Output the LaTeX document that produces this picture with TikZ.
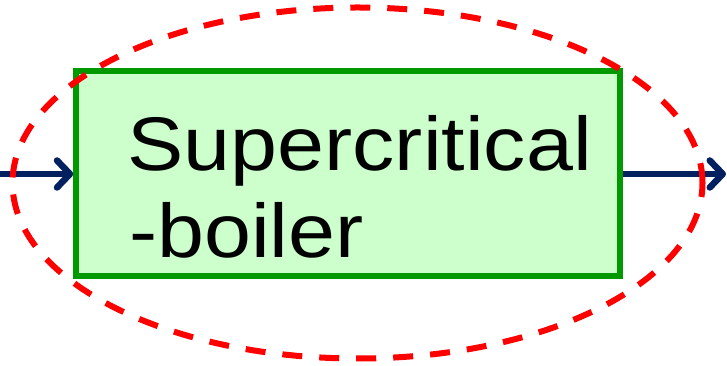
\documentclass[tikz,border=0pt]{standalone}
\usepackage{fontspec}
\setmainfont{Liberation Sans}
\definecolor{boxgreen}{RGB}{0,153,0}
\definecolor{boxfill}{RGB}{204,255,204}
\definecolor{arrowblue}{RGB}{0,32,96}
\definecolor{ellred}{RGB}{255,0,0}
\usetikzlibrary{arrows.meta}
\begin{document}
\begin{tikzpicture}[x=1pt,y=1pt,
  boilerbox/.style={draw=boxgreen,fill=boxfill,line width=5.5pt},
  flowarrow/.style={draw=arrowblue,line width=6.5pt,-{Straight Barb[length=13pt,width=27pt,round]}},
  bigtext/.style={anchor=base west,inner sep=0pt,font=\fontsize{76}{90}\selectfont,xscale=1.11},
  envelope/.style={draw=ellred,line width=6pt,dash pattern=on 20pt off 17pt}]
\useasboundingbox (0,0) rectangle (727,366);
\node[boilerbox,minimum width=544pt,minimum height=205pt,inner sep=0pt] (box) at (348,192.5) {};
\node[bigtext] (t1) at (127.5,195) {Supercritical};
\node[bigtext] (t2) at (129,108) {-boiler};
\coordinate (inL) at (0,192);
\coordinate (outR) at (726,192);
\draw[flowarrow] (inL) -- (inL -| box.west);
\draw[flowarrow] (outR -| box.east) -- (outR);
\draw[envelope] (357.5,183) ellipse [x radius=345, y radius=175.5];
\end{tikzpicture}
\end{document}
